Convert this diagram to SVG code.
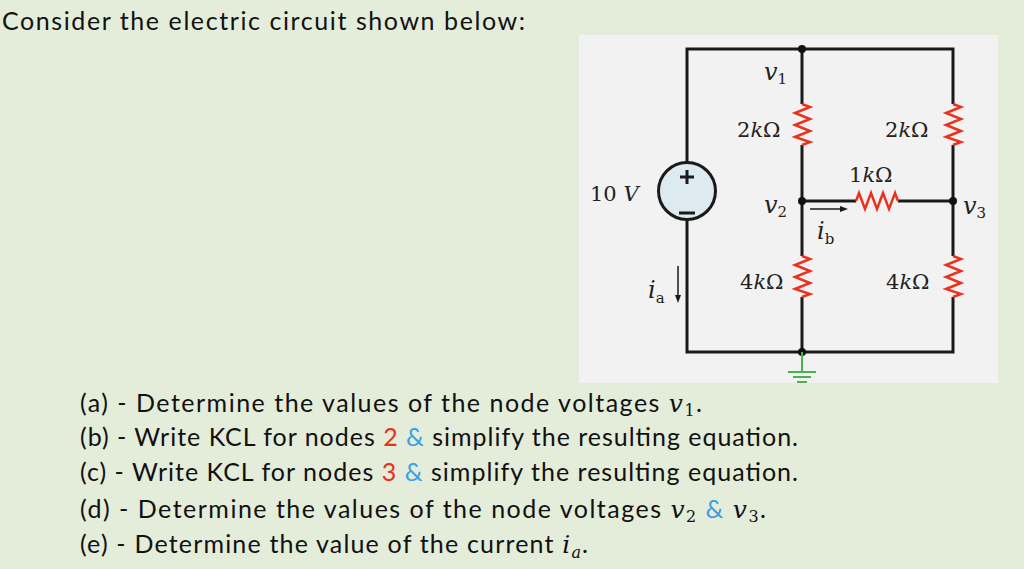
<svg xmlns="http://www.w3.org/2000/svg" width="1024" height="569" viewBox="0 0 1024 569">
<style>
.w{stroke:#1a1a1a;stroke-width:3;fill:none}
.r{stroke:#e8321e;stroke-width:2.5;fill:none;stroke-linejoin:miter}
.m{font-family:"DejaVu Serif",serif;font-size:21px;fill:#222}
.mi{font-family:"DejaVu Serif",serif;font-style:italic;font-size:24px;fill:#222}
.sub{font-family:"DejaVu Serif",serif;font-style:normal;font-size:15px;fill:#222}
.t{font-family:Lato,"Liberation Sans",sans-serif;font-size:25px;fill:#111}
.v{font-family:"DejaVu Serif",serif;font-style:italic}
.s{font-family:"DejaVu Serif",serif;font-size:16px}
</style>
<rect width="1024" height="569" fill="#e4ecda"/>
<rect x="579" y="35" width="419" height="348" fill="#f2f2f2"/>
<text class="t" x="2" y="30" textLength="523" lengthAdjust="spacing">Consider the electric circuit shown below:</text>
<g id="connectors">
<polyline class="w" points="687,162 687,49 953,49 953,104"/>
<polyline class="w" points="687,220 687,352 953,352 953,297"/>
<line class="w" x1="953" y1="145" x2="953" y2="256"/>
<line class="w" x1="802" y1="49" x2="802" y2="104"/>
<line class="w" x1="802" y1="145" x2="802" y2="256"/>
<line class="w" x1="802" y1="297" x2="802" y2="352"/>
<line class="w" x1="802" y1="201" x2="856" y2="201"/>
<line class="w" x1="898" y1="201" x2="953" y2="201"/>
<line stroke="#1a1a1a" stroke-width="1.5" x1="810" y1="209" x2="842" y2="209"/>
<polygon points="848,209 840,206 840,212" fill="#1a1a1a"/>
<line stroke="#1a1a1a" stroke-width="1.5" x1="678" y1="266" x2="678" y2="296"/>
<polygon points="678,303 675,295 681,295" fill="#1a1a1a"/>
</g>
<g id="nodes">
<circle cx="802" cy="49" r="4" fill="#111"/>
<circle cx="802" cy="201" r="4" fill="#111"/>
<circle cx="953" cy="201" r="4" fill="#111"/>
<circle cx="802" cy="352" r="4" fill="#111"/>
</g>
<g id="source">
<circle cx="687" cy="191" r="28.5" fill="#ddebf1" stroke="#1a1a1a" stroke-width="3"/>
<line class="w" stroke-width="2" x1="680" y1="177" x2="694" y2="177"/>
<line class="w" stroke-width="2" x1="687" y1="170" x2="687" y2="184"/>
<line class="w" stroke-width="2" x1="679" y1="213" x2="695" y2="213"/>
<text class="m" x="590" y="201">10 <tspan font-style="italic">V</tspan></text>
</g>
<g id="R1"><polyline class="r" points="802,104 810,107 795,113 810,119 795,125 810,131 795,137 810,142 802,145"/><text class="m" x="737" y="137">2<tspan font-style="italic">k</tspan>Ω</text></g>
<g id="R2"><polyline class="r" points="802,256 810,259 795,265 810,271 795,277 810,283 795,289 810,294 802,297"/><text class="m" x="740" y="289">4<tspan font-style="italic">k</tspan>Ω</text></g>
<g id="R3"><polyline class="r" points="953,104 961,107 946,113 961,119 946,125 961,131 946,137 961,142 953,145"/><text class="m" x="885" y="137">2<tspan font-style="italic">k</tspan>Ω</text></g>
<g id="R4"><polyline class="r" points="953,256 961,259 946,265 961,271 946,277 961,283 946,289 961,294 953,297"/><text class="m" x="886" y="289">4<tspan font-style="italic">k</tspan>Ω</text></g>
<g id="R5"><polyline class="r" points="856,201 859,193 865,209 871,193 877,209 883,193 889,209 895,193 898,201"/><text class="m" x="849" y="182">1<tspan font-style="italic">k</tspan>Ω</text></g>
<g id="ground">
<line stroke="#4caf50" stroke-width="2" x1="802" y1="352" x2="802" y2="372"/>
<line stroke="#4caf50" stroke-width="2" x1="788" y1="372" x2="816" y2="372"/>
<line stroke="#4caf50" stroke-width="2" x1="793" y1="377" x2="811" y2="377"/>
<line stroke="#4caf50" stroke-width="2" x1="797" y1="382" x2="807" y2="382"/>
</g>
<g id="labels">
<text class="mi" x="764" y="80">v<tspan class="sub" dy="4">1</tspan></text>
<text class="mi" x="764" y="213">v<tspan class="sub" dy="4">2</tspan></text>
<text class="mi" x="963" y="214">v<tspan class="sub" dy="4">3</tspan></text>
<text class="mi" x="817" y="239">i<tspan class="sub" dy="5" font-style="italic">b</tspan></text>
<text class="mi" x="648" y="298">i<tspan class="sub" dy="5" font-style="italic">a</tspan></text>
</g>
<g id="questions">
<text class="t" x="80" y="412" textLength="622" lengthAdjust="spacing">(a) - Determine the values of the node voltages <tspan class="v">v</tspan><tspan class="s" dy="4">1</tspan><tspan dy="-4">.</tspan></text>
<text class="t" x="80" y="446" textLength="718" lengthAdjust="spacing">(b) - Write KCL for nodes <tspan fill="#e8321e">2</tspan> <tspan fill="#3aa0e8">&amp;</tspan> simplify the resulting equation.</text>
<text class="t" x="80" y="481" textLength="718" lengthAdjust="spacing">(c) - Write KCL for nodes <tspan fill="#e8321e">3</tspan> <tspan fill="#3aa0e8">&amp;</tspan> simplify the resulting equation.</text>
<text class="t" x="80" y="518" textLength="686" lengthAdjust="spacing">(d) - Determine the values of the node voltages <tspan class="v">v</tspan><tspan class="s" dy="4">2</tspan><tspan dy="-4"> </tspan><tspan fill="#3aa0e8">&amp;</tspan> <tspan class="v">v</tspan><tspan class="s" dy="4">3</tspan><tspan dy="-4">.</tspan></text>
<text class="t" x="80" y="553" textLength="508" lengthAdjust="spacing">(e) - Determine the value of the current <tspan class="v">i</tspan><tspan class="s" font-style="italic" dy="5">a</tspan><tspan dy="-5">.</tspan></text>
</g>
</svg>
